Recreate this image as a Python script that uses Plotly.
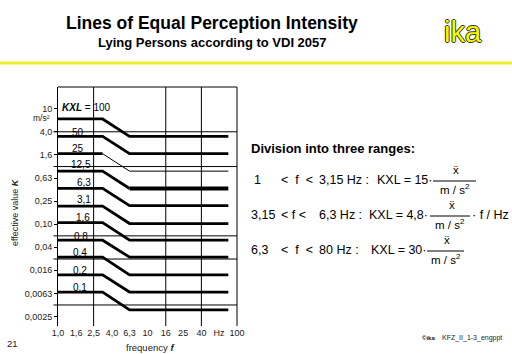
import plotly.graph_objects as go

# ---------------- data ----------------
kxl_labels = ["100", "50", "25", "12,5", "6,3", "3,1", "1,6", "0,8", "0,4", "0,2", "0,1"]
knee_freqs = [1.0, 3.15, 6.3, 80.0]
level_low = [6.67, 3.33, 1.67, 0.833, 0.42, 0.207, 0.107, 0.053, 0.027, 0.0133, 0.0067]
level_high = [3.33, 1.67, 0.833, 0.417, 0.21, 0.103, 0.053, 0.027, 0.0133, 0.0067, 0.0033]

x_tick_vals = [1, 1.6, 2.5, 4, 6.3, 10, 16, 25, 40, 63, 100]
x_tick_text = ["1,0", "1,6", "2,5", "4,0", "6,3", "10", "16", "25", "40", "Hz", "100"]
y_tick_vals = [10, 4, 1.6, 0.63, 0.25, 0.1, 0.04, 0.016, 0.0063, 0.0025]
y_tick_text = ["10", "4,0", "1,6", "0,63", "0,25", "0,10", "0,04", "0,016", "0,0063", "0,0025"]
x_grid = [2.5, 16, 40]
y_grid = [4.0, 1.0, 0.063, 0.025, 0.004]

FONT = "Liberation Sans, Arial, sans-serif"
W, H = 512, 354
L, R, T, B = 58, 237, 87, 326


def px(x):
    return (x - L) / (R - L)


def py(y):
    return (B - y) / (B - T)


fig = go.Figure()

for i, lab in enumerate(kxl_labels):
    ys = [level_low[i], level_low[i], level_high[i], level_high[i]]
    if lab == "25":
        fig.add_trace(go.Scatter(x=knee_freqs[:2], y=ys[:2], mode="lines",
                                 line=dict(color="black", width=2.8), showlegend=False, hoverinfo="skip"))
        fig.add_trace(go.Scatter(x=knee_freqs[1:], y=ys[1:], mode="lines",
                                 line=dict(color="black", width=1), showlegend=False, hoverinfo="skip"))
    elif lab == "12,5":
        fig.add_trace(go.Scatter(x=knee_freqs[:3], y=ys[:3], mode="lines",
                                 line=dict(color="black", width=2.8), showlegend=False, hoverinfo="skip"))
        fig.add_trace(go.Scatter(x=knee_freqs[2:], y=ys[2:], mode="lines",
                                 line=dict(color="black", width=3.8), showlegend=False, hoverinfo="skip"))
    else:
        fig.add_trace(go.Scatter(x=knee_freqs, y=ys, mode="lines",
                                 line=dict(color="black", width=2.8), showlegend=False, hoverinfo="skip"))

shapes = []
for gx in x_grid:
    shapes.append(dict(type="line", xref="x", yref="paper", x0=gx, x1=gx, y0=0, y1=1,
                       line=dict(color="black", width=1), layer="below"))
for gy in y_grid:
    shapes.append(dict(type="line", xref="paper", yref="y", x0=-0.025, x1=1, y0=gy, y1=gy,
                       line=dict(color="black", width=1), layer="below"))
# top border and right border
shapes.append(dict(type="line", xref="paper", yref="paper", x0=0, x1=1, y0=1, y1=1,
                   line=dict(color="black", width=1)))
shapes.append(dict(type="line", xref="paper", yref="paper", x0=1, x1=1, y0=0, y1=1,
                   line=dict(color="black", width=1)))
# yellow header rule
shapes.append(dict(type="line", xref="paper", yref="paper", x0=px(0), x1=px(W), y0=py(63), y1=py(63),
                   line=dict(color="#eeee30", width=3)))

ann = []


def text(x, y, s, size, xanchor="center", color="black", **kw):
    ann.append(dict(x=px(x), y=py(y), xref="paper", yref="paper", text=s, showarrow=False,
                    xanchor=xanchor, yanchor="middle", font=dict(family=FONT, size=size, color=color, **kw)))


# titles
text(212, 23, "<b>Lines of Equal Perception Intensity</b>", 17.5)
text(212, 43, "<b>Lying Persons according to VDI 2057</b>", 13)
ann.append(dict(x=px(463), y=py(32), xref="paper", yref="paper", text="ika", showarrow=False,
                xanchor="center", yanchor="middle",
                font=dict(family=FONT, size=29, color="#f8f800",
                          shadow="-1px 0 #333, 1px 0 #333, 0 -1px #333, 0 1px #333")))

# curve labels
lab_pos = [(None, 107), (86, 132), (86, 148), (93, 164), (93, 182), (93, 199),
           (92, 217), (90, 236), (89, 253), (89, 270), (89, 287)]
for lab, (lx, ly) in zip(kxl_labels, lab_pos):
    if lx is None:
        text(60, ly, "<b><i>KXL</i></b> = " + lab, 10, xanchor="left")
    else:
        text(lx, ly, lab, 10, xanchor="right")

# unit under top tick label
text(52, 118, "m/s²", 8.5, xanchor="right", color="#222")
# axis titles
ann.append(dict(x=px(15), y=py(212), xref="paper", yref="paper", text="effective value <b><i>K</i></b>",
                showarrow=False, textangle=-90, xanchor="center", yanchor="middle",
                font=dict(family=FONT, size=9, color="#222")))
text(150, 347, "frequency <b><i>f</i></b>", 9.5, color="#222")
text(12, 343, "21", 9.5, color="#222")
text(437, 338, "<b>©ika</b>", 6, xanchor="right", color="#222")
text(440, 338, "KFZ_II_1-3_engppt", 7, xanchor="left", color="#222")

# division text
text(249, 148, "<b>Division into three ranges:</b>", 13, xanchor="left")
NB = "\u00a0"
FS = 12.5
rows = [
    dict(y=180, a="1", ax=252, cmp="<" + NB * 2 + "f" + NB * 2 + "<", c="3,15 Hz :",
         k="KXL = 15·", kx=434, f0=433, f1=476, tail=None),
    dict(y=215, a="3,15", ax=249, cmp="<" + NB + "f" + NB + "<", c="6,3 Hz :",
         k="KXL = 4,8·", kx=430, f0=430, f1=470, tail="· f / Hz"),
    dict(y=250, a="6,3", ax=249, cmp="<" + NB * 2 + "f" + NB * 2 + "<", c="80 Hz :",
         k="KXL = 30·", kx=428, f0=427, f1=464, tail=None),
]
for r in rows:
    y = r["y"]
    text(r["ax"], y, r["a"], FS, xanchor="left")
    text(279, y, r["cmp"], FS, xanchor="left")
    text(317, y, r["c"], FS, xanchor="left")
    text(r["kx"], y, r["k"], FS, xanchor="right")
    cx = (r["f0"] + r["f1"]) / 2
    text(cx + 2, y - 10, "ẍ", 11.5)
    text(cx, y + 9, "m / s<sup>2</sup>", 11.5)
    shapes.append(dict(type="line", xref="paper", yref="paper", x0=px(r["f0"]), x1=px(r["f1"]),
                       y0=py(y + 1), y1=py(y + 1), line=dict(color="black", width=1)))
    if r["tail"]:
        text(r["f1"], y, r["tail"], FS, xanchor="left")

fig.update_layout(
    width=W, height=H, margin=dict(l=L, r=W - R, t=T, b=H - B),
    paper_bgcolor="white", plot_bgcolor="white",
    shapes=shapes, annotations=ann, showlegend=False,
    font=dict(family=FONT, color="#222"),
    xaxis=dict(type="log", range=[0, 2], showgrid=False, zeroline=False, showline=False,
               tickvals=x_tick_vals, ticktext=x_tick_text, ticks="",
               tickfont=dict(family=FONT, size=9, color="#222")),
    yaxis=dict(type="log", range=[-2.762, 1.378], showgrid=False, zeroline=False,
               showline=True, linecolor="black", linewidth=1,
               tickvals=y_tick_vals, ticktext=y_tick_text, ticks="outside", ticklen=3,
               tickcolor="black", tickfont=dict(family=FONT, size=9, color="#222")),
)

fig.write_html("out.html")
